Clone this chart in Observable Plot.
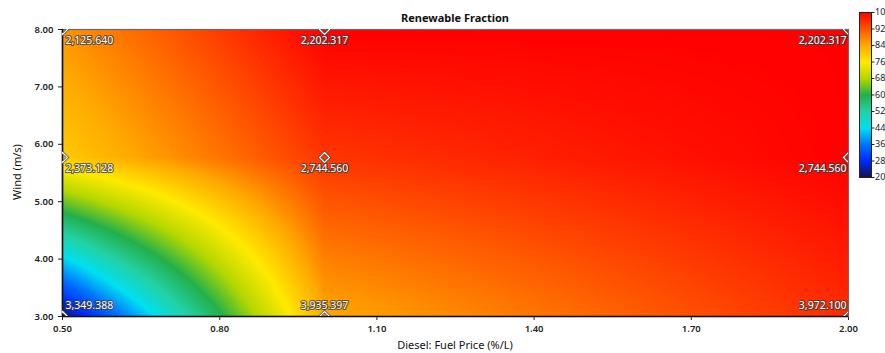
<!DOCTYPE html>
<html>
<head>
<meta charset="utf-8">
<script src="https://cdn.jsdelivr.net/npm/d3@7"></script>
<script src="https://cdn.jsdelivr.net/npm/@observablehq/plot@0.6"></script>
<style>
  html, body { margin: 0; padding: 0; background: #fff; overflow: hidden; }
  #wrap { position: relative; width: 885px; height: 353px; font-family: "Noto Sans", "Open Sans", sans-serif; }
  #wrap svg { max-width: none; overflow: visible; }
  .abs { position: absolute; }
  .lbl { position: absolute; color: #111; white-space: nowrap; }
</style>
</head>
<body>
<div id="wrap"></div>
<script>
// Sensitivity grid: diesel fuel price and wind speed (m/s)
const prices = [0.5, 1.0, 2.0];
const winds = [3.0, 5.77, 8.0];
const rfWind3 = [22, 84, 96];
const rfWind577 = [80, 95, 100];
const rfWind8 = [86, 100, 100];
// Net present cost labels at each sensitivity point
const npcWind3 = ["3,349.388", "3,935.397", "3,972.100"];
const npcWind577 = ["2,373.128", "2,744.560", "2,744.560"];
const npcWind8 = ["2,125.640", "2,202.317", "2,202.317"];
// Axis ticks and colour legend stops
const xTicks = [0.5, 0.8, 1.1, 1.4, 1.7, 2.0];
const yTicks = [3, 4, 5, 6, 7, 8];
const legendStops = [20, 28, 36, 44, 52, 60, 68, 76, 84, 92, 100];
const legendColors = ["#12124a", "#0028ff", "#0074ff", "#00e0f0", "#22d2a4", "#22b04c",
                      "#b4d800", "#ffea00", "#ffaa00", "#ff5500", "#ff0000"];

const rfRows = [rfWind3, rfWind577, rfWind8];
const npcRows = [npcWind3, npcWind577, npcWind8];

function rf(x, y) {
  const i = x <= prices[1] ? 0 : 1;
  const j = y <= winds[1] ? 0 : 1;
  const u = Math.max(0, Math.min(1, (x - prices[i]) / (prices[i + 1] - prices[i])));
  const v = Math.max(0, Math.min(1, (y - winds[j]) / (winds[j + 1] - winds[j])));
  const a = rfRows[j][i], b = rfRows[j][i + 1], c = rfRows[j + 1][i], d = rfRows[j + 1][i + 1];
  return a * (1 - u) * (1 - v) + b * u * (1 - v) + c * (1 - u) * v + d * u * v;
}

const points = [];
winds.forEach((w, j) => prices.forEach((p, i) => points.push({
  price: p, wind: w, label: npcRows[j][i], col: i, row: j
})));

const colorScale = {type: "linear", domain: legendStops, range: legendColors, clamp: true};

function labelMark(filterFn, anchor, dx, dy) {
  const data = points.filter(filterFn);
  return [
    Plot.text(data, {x: "price", y: "wind", text: "label", textAnchor: anchor, dx, dy,
      fill: "none", stroke: "#3a3a3a", strokeWidth: 2.2, strokeOpacity: 0.8, fontSize: 10.5, fontWeight: 400}),
    Plot.text(data, {x: "price", y: "wind", text: "label", textAnchor: anchor, dx, dy,
      fill: "white", fontSize: 10.5, fontWeight: 400})
  ];
}

const labelMarks = [];
for (const col of [0, 1, 2]) {
  for (const row of [0, 1, 2]) {
    const anchor = col === 0 ? "start" : col === 1 ? "middle" : "end";
    const dx = col === 0 ? 3 : col === 1 ? 0 : -2;
    const dy = row === 0 ? -11 : 11;
    labelMarks.push(...labelMark(d => d.col === col && d.row === row, anchor, dx, dy));
  }
}

const main = Plot.plot({
  width: 885,
  height: 353,
  marginLeft: 62,
  marginRight: 37,
  marginTop: 29,
  marginBottom: 37,
  style: {fontFamily: "Noto Sans", fontSize: "9.5px", fontWeight: 600, color: "#222", background: "transparent"},
  x: {domain: [0.5, 2.0], ticks: xTicks, tickFormat: d => d.toFixed(2), tickSize: 4, label: null},
  y: {domain: [3, 8], ticks: yTicks, tickFormat: d => d.toFixed(2), tickSize: 4, label: null},
  color: colorScale,
  marks: [
    Plot.raster({fill: rf, x1: 0.5, x2: 2.0, y1: 3, y2: 8, pixelSize: 1}),
    Plot.frame({stroke: "#6a6a6a", strokeWidth: 1.2}),
    Plot.ruleX([0.5], {stroke: "#111", strokeWidth: 1.6}),
    Plot.ruleY([3], {stroke: "#111", strokeWidth: 1.6}),
    Plot.dot(points, {x: "price", y: "wind", symbol: "diamond2", r: 4.5, stroke: "#444", strokeWidth: 2.6, fill: "none", clip: true}),
    Plot.dot(points, {x: "price", y: "wind", symbol: "diamond2", r: 4.5, stroke: "white", strokeWidth: 1.2, fill: "none", clip: true}),
    ...labelMarks
  ]
});
main.classList.add("abs");
main.style.left = "0px";
main.style.top = "0px";

const legend = Plot.plot({
  width: 24,
  height: 190,
  marginLeft: 0,
  marginRight: 12,
  marginTop: 12,
  marginBottom: 13,
  style: {fontFamily: "Noto Sans", fontSize: "9px", color: "#222", background: "transparent"},
  x: {domain: [0, 1], axis: null},
  y: {domain: [20, 100], ticks: legendStops, tickSize: 2.5, tickPadding: 1, axis: "right", label: null},
  color: colorScale,
  marks: [
    Plot.raster({fill: (x, y) => y, x1: 0, x2: 1, y1: 20, y2: 100, pixelSize: 1}),
    Plot.frame({stroke: "#222", strokeWidth: 1})
  ]
});
legend.classList.add("abs");
legend.style.left = "859px";
legend.style.top = "0px";

const wrap = document.getElementById("wrap");
wrap.appendChild(main);
wrap.appendChild(legend);

function addLabel(text, css) {
  const el = document.createElement("div");
  el.className = "lbl";
  el.textContent = text;
  Object.assign(el.style, css);
  wrap.appendChild(el);
  return el;
}
addLabel("Renewable Fraction", {left: "455px", top: "10px", transform: "translateX(-50%)", fontSize: "11px", fontWeight: "700"});
addLabel("Diesel: Fuel Price (%/L)", {left: "455px", top: "337px", transform: "translateX(-50%)", fontSize: "11px"});
addLabel("Wind (m/s)", {left: "16px", top: "172px", transform: "translate(-50%, -50%) rotate(-90deg)", fontSize: "11px"});
</script>
</body>
</html>
